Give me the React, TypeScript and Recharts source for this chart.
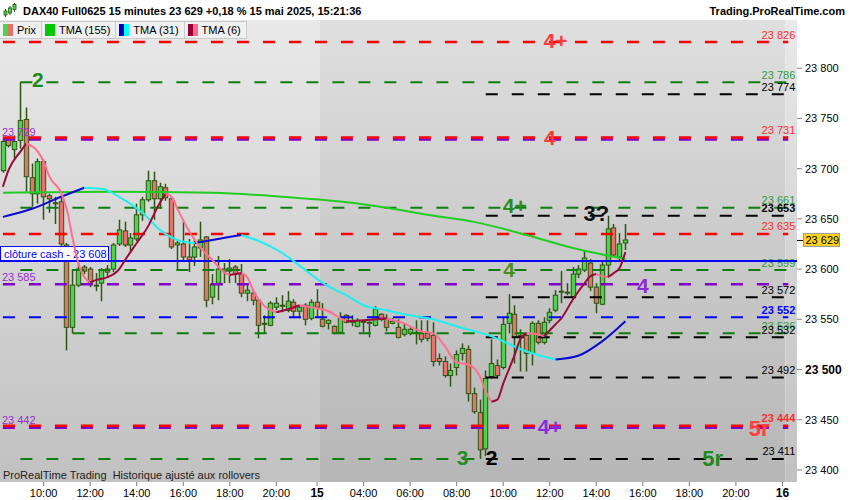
import React from "react";
import {
  ComposedChart,
  Bar,
  Line,
  XAxis,
  YAxis,
  ReferenceLine,
  ReferenceArea,
  ReferenceDot,
} from "recharts";

const FONT = "'Liberation Sans', Arial, Helvetica, sans-serif";

// DAX40 15-minute candles, 14 May 08:15 -> 15 May 15:15
const opens = [
  23698, 23730, 23719, 23728, 23749, 23691, 23675, 23707, 23673, 23666,
  23667, 23624, 23542, 23584, 23602, 23600, 23583, 23586, 23600, 23600,
  23625, 23638, 23624, 23630, 23654, 23669, 23688, 23670, 23681, 23670,
  23624, 23625, 23612, 23612, 23621, 23632, 23572, 23586, 23598, 23598,
  23602, 23595, 23576, 23576, 23569, 23545, 23544, 23562, 23564, 23559,
  23567, 23558, 23564, 23551, 23567, 23550, 23546, 23543, 23537, 23554,
  23548, 23543, 23547, 23547, 23544, 23555, 23551, 23546, 23542, 23535,
  23536, 23537, 23536, 23536, 23534, 23511, 23508, 23494, 23502, 23516,
  23520, 23476, 23457, 23421, 23493, 23504, 23502, 23546, 23555, 23534,
  23534, 23516, 23546, 23527, 23549, 23559, 23577, 23577, 23572, 23595,
  23599, 23606, 23582, 23565, 23604, 23641, 23612, 23626,
];
const highs = [
  23730, 23732, 23733, 23786, 23761, 23705, 23710, 23709, 23675, 23672,
  23672, 23626, 23600, 23606, 23604, 23602, 23596, 23601, 23604, 23626,
  23649, 23647, 23636, 23665, 23672, 23698, 23697, 23686, 23685, 23672,
  23630, 23647, 23630, 23630, 23647, 23633, 23595, 23613, 23606, 23610,
  23604, 23605, 23584, 23579, 23570, 23554, 23568, 23572, 23574, 23578,
  23570, 23564, 23566, 23570, 23580, 23566, 23550, 23544, 23557, 23555,
  23554, 23551, 23549, 23548, 23563, 23556, 23555, 23551, 23550, 23546,
  23542, 23549, 23549, 23549, 23547, 23516, 23513, 23506, 23519, 23526,
  23524, 23482, 23470, 23499, 23530, 23510, 23552, 23575, 23564, 23540,
  23537, 23548, 23549, 23552, 23561, 23579, 23598, 23586, 23602, 23604,
  23619, 23610, 23586, 23608, 23653, 23645, 23636, 23645,
];
const lows = [
  23696, 23721, 23710, 23720, 23677, 23662, 23665, 23649, 23656, 23645,
  23623, 23519, 23536, 23582, 23595, 23582, 23578, 23568, 23593, 23597,
  23623, 23622, 23618, 23628, 23648, 23667, 23649, 23660, 23668, 23620,
  23599, 23609, 23597, 23603, 23612, 23562, 23565, 23569, 23586, 23586,
  23586, 23572, 23568, 23564, 23531, 23536, 23543, 23559, 23557, 23557,
  23551, 23551, 23544, 23549, 23552, 23542, 23540, 23535, 23536, 23546,
  23543, 23542, 23537, 23532, 23543, 23548, 23538, 23545, 23531, 23533,
  23534, 23525, 23527, 23528, 23503, 23504, 23492, 23483, 23494, 23509,
  23468, 23456, 23411, 23414, 23491, 23491, 23500, 23536, 23506, 23498,
  23498, 23504, 23525, 23525, 23546, 23557, 23566, 23574, 23570, 23591,
  23597, 23578, 23556, 23564, 23592, 23612, 23609, 23619,
];
const closes = [
  23727, 23723, 23727, 23748, 23692, 23675, 23707, 23672, 23670, 23665,
  23625, 23542, 23584, 23600, 23598, 23586, 23584, 23599, 23597, 23624,
  23639, 23624, 23631, 23654, 23669, 23688, 23670, 23682, 23671, 23622,
  23626, 23612, 23609, 23622, 23629, 23569, 23585, 23600, 23600, 23601,
  23595, 23576, 23579, 23569, 23544, 23546, 23566, 23566, 23563, 23568,
  23558, 23562, 23550, 23567, 23562, 23543, 23549, 23536, 23551, 23547,
  23548, 23549, 23548, 23546, 23560, 23550, 23542, 23548, 23532, 23540,
  23540, 23537, 23530, 23531, 23508, 23508, 23494, 23499, 23515, 23521,
  23476, 23458, 23420, 23491, 23506, 23494, 23545, 23556, 23532, 23533,
  23516, 23546, 23527, 23547, 23557, 23574, 23578, 23577, 23595, 23600,
  23611, 23582, 23566, 23604, 23640, 23614, 23625, 23629,
];

// bar slots on the axis, including the empty future ones on the right
const SLOTS = 137;

const timeTickBars = [7, 15, 23, 31, 39, 47, 54, 62, 70, 78, 86, 94, 102, 110, 118, 126, 134];
const timeTickLabels = [
  "10:00", "12:00", "14:00", "16:00", "18:00", "20:00", "15",
  "04:00", "06:00", "08:00", "10:00", "12:00", "14:00", "16:00", "18:00", "20:00", "16",
];
const dayStartBars = [0, 55, 135];
const dayEndBars = [54, 134, 136];

const priceTicks = [23400, 23450, 23500, 23550, 23600, 23650, 23700, 23750, 23800];

// moving averages (bar index -> value)
const tma155Bars = [0, 18, 36, 48, 60, 66, 73, 81, 90, 98, 107];
const tma155Vals = [23676, 23677, 23676, 23672, 23666, 23661, 23654, 23647, 23634, 23621, 23610];

const tma31Bars = [0, 5, 10, 14, 17, 20, 24, 27, 30, 33, 37, 41, 44, 48, 52, 55, 59, 62, 66, 69, 74, 78, 84, 90, 95, 99, 103, 107];
const tma31Vals = [
  23652, 23660, 23672, 23681, 23680, 23672, 23656, 23639, 23629, 23626, 23630, 23634, 23628, 23616,
  23599, 23586, 23574, 23564, 23559, 23555, 23550, 23543, 23533, 23518, 23510, 23514, 23528, 23548,
];

const tma6Bars = [
  0, 1, 3, 4, 6, 7, 8, 10, 11, 12, 13, 14, 15, 16, 18, 20, 21, 23, 25, 26,
  27, 28, 29, 30, 32, 33, 34, 36, 38, 39, 41, 42, 43, 45, 47, 49, 51, 52, 54, 56,
  58, 59, 62, 66, 67, 69, 71, 72, 74, 76, 78, 80, 82, 83, 84, 85, 86, 88, 89, 90,
  92, 93, 95, 96, 98, 100, 101, 102, 103, 104, 105, 106, 107,
];
const tma6Vals = [
  23682, 23699, 23717, 23725, 23717, 23707, 23692, 23676, 23659, 23630,
  23605, 23592, 23587, 23589, 23592, 23600, 23609, 23626, 23643, 23655,
  23666, 23675, 23672, 23660, 23638, 23629, 23621, 23609, 23597, 23594,
  23596, 23592, 23579, 23563, 23557, 23560, 23564, 23563, 23561, 23558,
  23551, 23548, 23549, 23551, 23549, 23546, 23540, 23538, 23536, 23523,
  23507, 23505, 23493, 23478, 23468, 23470, 23486, 23515, 23531, 23536,
  23535, 23533, 23545, 23551, 23570, 23586, 23593, 23595, 23593, 23592,
  23596, 23601, 23617,
];

// horizontal levels
const levelValues = [23826, 23786, 23774, 23729, 23731, 23661, 23653, 23635, 23599, 23585, 23572, 23552, 23536, 23532, 23492, 23442, 23444, 23411, 23411];
const levelFrom = [0, 3, 83, 0, 0, 3, 83, 0, 3, 0, 83, 0, 12, 83, 83, 0, 0, 3, 83];
const levelTo = [135, 135, 135, 135, 135, 135, 135, 135, 135, 135, 135, 135, 135, 135, 135, 135, 135, 82, 135];
const levelKind = ["red", "green", "black", "purple", "red", "green", "black", "red", "green", "purple", "black", "blue", "green", "black", "black", "purple", "red", "green", "black"];
const levelLabelSide = ["right", "right", "right", "left", "right", "right", "right", "right", "right", "left", "right", "right", "right", "right", "right", "left", "right", "none", "right"];
const cashClose = 23608;

// wave annotations
const markTexts = ["2", "4+", "4", "4+", "3?", "4", "4", "4+", "3", "2", "5r", "5r"];
const markBars = [6, 95, 94, 88, 102, 87, 110, 94, 79, 84, 122, 130];
const markValues = [23789, 23828, 23731, 23663, 23655, 23600, 23584, 23443, 23412, 23412, 23411, 23441];

// ---- styles ----
const KIND: Record<string, { line: string; text: string; width: number }> = {
  red: { line: "#ff0000", text: "#ff2e2e", width: 2.5 },
  green: { line: "#0f7d0f", text: "#2e9a3e", width: 2 },
  black: { line: "#000000", text: "#000000", width: 2 },
  purple: { line: "#8000c8", text: "#9a30d0", width: 2.5 },
  blue: { line: "#0000ff", text: "#0000ff", width: 2 },
};
const boldLabels = [23653, 23552, 23444];
const markColors = ["#1e8a1e", "#ff3b3b", "#ff3b3b", "#2a8a1e", "#111111", "#4a8f1a", "#8a2ad8", "#8a2ad8", "#2a8a2a", "#000000", "#1e8a1e", "#ff4040"];
const WICK = "#2c5612";
const UP = "#4fd34f";
const DOWN = "#e6726a";

const fmt = (v: number) => `${Math.floor(v / 1000)} ${String(v % 1000).padStart(3, "0")}`;

type Seg = { up: boolean; pts: [number, number][] };
function splitByTrend(bars: number[], vals: number[]): Seg[] {
  const segs: Seg[] = [];
  for (let k = 1; k < bars.length; k++) {
    const up = vals[k] >= vals[k - 1];
    const last = segs[segs.length - 1];
    if (last && last.up === up) last.pts.push([bars[k], vals[k]]);
    else segs.push({ up, pts: [[bars[k - 1], vals[k - 1]], [bars[k], vals[k]]] });
  }
  return segs;
}

const seg31 = splitByTrend(tma31Bars, tma31Vals);
const seg6 = splitByTrend(tma6Bars, tma6Vals);

const rows: Record<string, any>[] = Array.from({ length: SLOTS }, (_, i) => {
  const r: Record<string, any> = { i };
  if (i < closes.length) {
    r.open = opens[i];
    r.high = highs[i];
    r.low = lows[i];
    r.close = closes[i];
    r.range = [lows[i], highs[i]];
  }
  return r;
});
tma155Bars.forEach((b, k) => (rows[b].m155 = tma155Vals[k]));
seg31.forEach((s, n) => s.pts.forEach(([b, v]) => (rows[b][`m31_${n}`] = v)));
seg6.forEach((s, n) => s.pts.forEach(([b, v]) => (rows[b][`m6_${n}`] = v)));

const Candle = (props: any) => {
  const { x, y, width, height } = props;
  const d = props.payload || props;
  if (d.high == null || x == null) return null;
  const top = Math.min(y, y + height);
  const bot = Math.max(y, y + height);
  const span = d.high - d.low || 1;
  const py = (v: number) => top + ((d.high - v) / span) * (bot - top);
  const cx = Math.round(x + width / 2) + 0.5;
  const yo = py(d.open);
  const yc = py(d.close);
  const bt = Math.min(yo, yc);
  const bh = Math.max(Math.abs(yc - yo), 1);
  return (
    <g>
      <line x1={cx} x2={cx} y1={top} y2={bot} stroke={WICK} strokeWidth={1.5} />
      <rect x={cx - 2.2} y={bt} width={4.4} height={bh} fill={d.close >= d.open ? UP : DOWN} stroke={WICK} strokeWidth={1} />
    </g>
  );
};

const TimeTick = (p: any) => {
  const k = timeTickBars.indexOf(p.payload.value);
  if (k < 0) return <g />;
  const day = timeTickLabels[k].length <= 2;
  return (
    <g>
      <line x1={p.x} x2={p.x} y1={482} y2={486} stroke="#777" />
      <text x={p.x} y={497} textAnchor="middle" fontSize={day ? 12 : 11} fontWeight={day ? "bold" : "normal"} fill="#000" fontFamily={FONT}>
        {timeTickLabels[k]}
      </text>
    </g>
  );
};

const PriceTick = (p: any) => {
  const v = p.payload.value;
  const big = v === 23500;
  return (
    <text x={p.x + 1} y={p.y} dy={4} textAnchor="start" fontSize={big ? 12 : 11} fontWeight={big ? "bold" : "normal"} fill="#000" fontFamily={FONT}>
      {fmt(v)}
    </text>
  );
};

const levelLabel = (k: number) => (p: any) => {
  const vb = p.viewBox || p;
  const side = levelLabelSide[k];
  if (side === "none") return null;
  const st = KIND[levelKind[k]];
  const v = levelValues[k];
  const left = side === "left";
  return (
    <text
      x={left ? vb.x - 1 : vb.x + vb.width + 7}
      y={vb.y - 3.5}
      textAnchor={left ? "start" : "end"}
      fontSize={11}
      fontWeight={boldLabels.includes(v) ? "bold" : "normal"}
      fill={st.text}
      fontFamily={FONT}
    >
      {fmt(v)}
    </text>
  );
};

const cashLabel = (p: any) => {
  const vb = p.viewBox || p;
  return (
    <g>
      <rect x={vb.x + 0.5} y={vb.y - 14.5} width={108} height={14} fill="#ffffff" stroke="#0000ff" strokeWidth={1} />
      <text x={vb.x + 4} y={vb.y - 3.5} fontSize={11} fill="#0000ff" fontFamily={FONT}>
        {`clôture cash -  ${fmt(cashClose)}`}
      </text>
    </g>
  );
};

const lastClose = closes[closes.length - 1];
const priceTag = (p: any) => {
  const vb = p.viewBox || p;
  const rx = vb.x + vb.width;
  const ry = vb.y;
  return (
    <g>
      <line x1={rx} x2={rx + 6} y1={ry + 0.5} y2={ry + 0.5} stroke="#000" />
      <rect x={rx + 6.5} y={ry - 6.5} width={36} height={13} fill="#ffd21e" stroke="#9a9a9a" />
      <text x={rx + 8.5} y={ry + 4} fontSize={11} fill="#000" fontFamily={FONT}>
        {fmt(lastClose)}
      </text>
    </g>
  );
};

const markShape = (k: number) => (p: any) => (
  <text
    x={p.cx}
    y={p.cy}
    textAnchor="middle"
    dominantBaseline="central"
    fontSize={markTexts[k] === "5r" || markTexts[k] === "3?" ? 22 : 21}
    fontWeight="bold"
    fill={markColors[k]}
    fontFamily={FONT}
  >
    {markTexts[k]}
  </text>
);

const legendItems = [
  { label: "Prix", colors: ["#4fd24f", "#e2706a"] },
  { label: "TMA (155)", colors: ["#00c800", "#00c800"] },
  { label: "TMA (31)", colors: ["#0000c8", "#00ffff"] },
  { label: "TMA (6)", colors: ["#990033", "#ff6a8c"] },
];

const TitleIcon = () => (
  <svg width={14} height={15} style={{ position: "absolute", left: 3, top: 3 }}>
    <line x1={2.5} x2={2.5} y1={6} y2={14} stroke={WICK} />
    <rect x={1} y={8} width={3} height={4} fill={UP} stroke={WICK} strokeWidth={0.8} />
    <line x1={7} x2={7} y1={3} y2={12} stroke={WICK} />
    <rect x={5.5} y={5} width={3} height={5} fill={UP} stroke={WICK} strokeWidth={0.8} />
    <line x1={11.5} x2={11.5} y1={0} y2={9} stroke={WICK} />
    <rect x={10} y={1.5} width={3} height={5} fill={UP} stroke={WICK} strokeWidth={0.8} />
  </svg>
);

export default function App() {
  return (
    <div style={{ position: "absolute", left: 0, top: 0, width: 850, height: 500, background: "#ffffff", overflow: "hidden", fontFamily: FONT }}>
      <ComposedChart width={850} height={500} data={rows} margin={{ top: 20, right: 0, bottom: 0, left: 0 }} style={{ fontFamily: FONT }}>
        <defs>
          <linearGradient id="bgA" x1="0" y1="0" x2="0" y2="1">
            <stop offset="0" stopColor="#e9e9e9" />
            <stop offset="1" stopColor="#c1c1c1" />
          </linearGradient>
          <linearGradient id="bgB" x1="0" y1="0" x2="0" y2="1">
            <stop offset="0" stopColor="#dfdfdf" />
            <stop offset="1" stopColor="#b6b6b6" />
          </linearGradient>
        </defs>
        <XAxis dataKey="i" type="category" interval={0} tickLine={false} axisLine={false} height={18} tick={<TimeTick />} />
        <YAxis
          orientation="right"
          type="number"
          domain={[23388, 23848]}
          allowDataOverflow
          ticks={priceTicks}
          interval={0}
          width={53}
          axisLine={false}
          tickSize={5}
          tickLine={{ stroke: "#888" }}
          tick={<PriceTick />}
        />
        {dayStartBars.map((b, k) => (
          <ReferenceArea key={`day${k}`} x1={b} x2={dayEndBars[k]} fill={k === 1 ? "url(#bgB)" : "url(#bgA)"} fillOpacity={1} stroke="none" ifOverflow="extendDomain" />
        ))}
        <Bar dataKey="range" barSize={5} shape={(p: any) => <Candle {...p} />} isAnimationActive={false} />
        {levelValues.map((v, k) => (
          <ReferenceLine
            key={`lv${k}`}
            segment={[{ x: levelFrom[k], y: v }, { x: levelTo[k], y: v }]}
            stroke={KIND[levelKind[k]].line}
            strokeWidth={KIND[levelKind[k]].width}
            strokeDasharray="12 14"
            label={levelLabel(k)}
          />
        ))}
        <ReferenceLine y={cashClose} stroke="#0000ff" strokeWidth={2} label={cashLabel} />
        <ReferenceLine y={lastClose} stroke="none" strokeOpacity={0} label={priceTag} />
        <Line dataKey="m155" stroke="#22cc22" strokeWidth={2} dot={false} activeDot={false} connectNulls type="monotone" isAnimationActive={false} />
        {seg31.map((s, n) => (
          <Line key={`m31_${n}`} dataKey={`m31_${n}`} stroke={s.up ? "#0a0ad0" : "#22eeee"} strokeWidth={2} dot={false} activeDot={false} connectNulls type="monotone" isAnimationActive={false} />
        ))}
        {seg6.map((s, n) => (
          <Line key={`m6_${n}`} dataKey={`m6_${n}`} stroke={s.up ? "#9a0a3a" : "#ff6f90"} strokeWidth={2} dot={false} activeDot={false} connectNulls type="monotone" isAnimationActive={false} />
        ))}
        {markTexts.map((t, k) => (
          <ReferenceDot key={`mk${k}`} x={markBars[k]} y={markValues[k]} r={1} shape={markShape(k)} />
        ))}
      </ComposedChart>

      <TitleIcon />
      <div style={{ position: "absolute", left: 23, top: 4, fontSize: 11, fontWeight: "bold", color: "#000", lineHeight: "14px", whiteSpace: "pre" }}>
        DAX40 Full0625 15 minutes 23 629 +0,18 % 15 mai 2025, 15:21:36
      </div>
      <div style={{ position: "absolute", right: 5, top: 4, fontSize: 11, fontWeight: "bold", color: "#000", lineHeight: "14px" }}>
        Trading.ProRealTime.com
      </div>
      <div style={{ position: "absolute", left: 0, top: 21, height: 17, display: "flex" }}>
        {legendItems.map((it) => (
          <div
            key={it.label}
            style={{
              display: "flex",
              alignItems: "center",
              height: 16,
              padding: "0 5px 0 3px",
              background: "#f0f0f0",
              border: "1px solid #c9c9c9",
              borderLeft: "none",
              fontSize: 11,
              color: "#000",
            }}
          >
            <span style={{ display: "inline-block", width: 5, height: 12, background: it.colors[0] }} />
            <span style={{ display: "inline-block", width: 5, height: 12, background: it.colors[1], marginRight: 4 }} />
            {it.label}
          </div>
        ))}
      </div>
      <div style={{ position: "absolute", left: 3, top: 469, fontSize: 11, color: "#222", whiteSpace: "pre", lineHeight: "13px" }}>
        {"ProRealTime Trading  Historique ajusté aux rollovers"}
      </div>
    </div>
  );
}
